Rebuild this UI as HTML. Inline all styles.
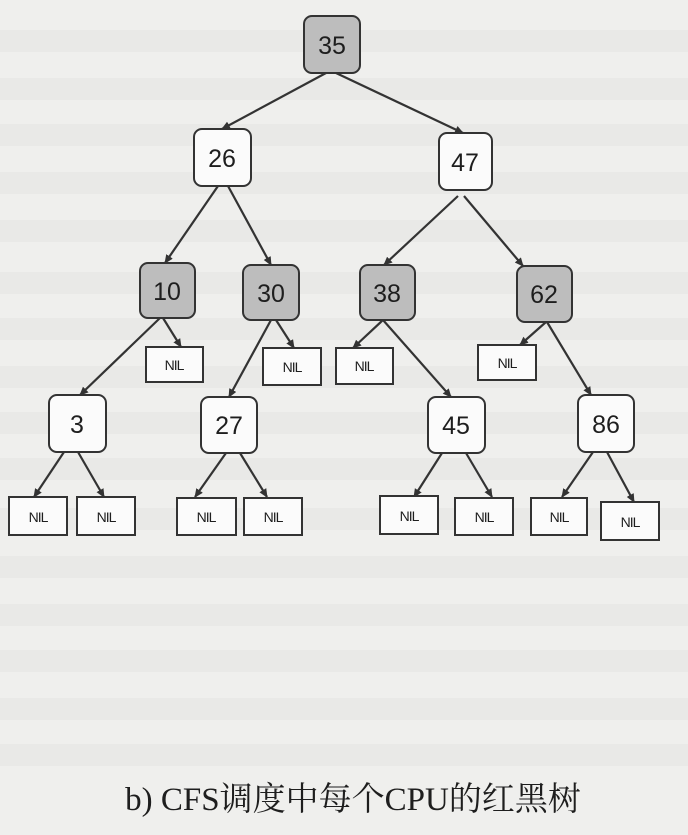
<!DOCTYPE html>
<html><head><meta charset="utf-8"><style>
html,body{margin:0;padding:0;background:#efefed;}
svg{display:block}
text{font-family:"Liberation Sans",sans-serif;fill:#1e1e1e}
</style></head><body>
<svg width="688" height="835" viewBox="0 0 688 835" xmlns="http://www.w3.org/2000/svg">
<defs><marker id="a" markerWidth="10" markerHeight="10" refX="8" refY="4" orient="auto" markerUnits="userSpaceOnUse"><path d="M0,0 L9,4 L0,8 z" fill="#333"/></marker></defs>
<rect width="688" height="835" fill="#efefed"/>
<g fill="#e9e9e7">
<rect x="0" y="30" width="688" height="22"/>
<rect x="0" y="78" width="688" height="22"/>
<rect x="0" y="124" width="688" height="22"/>
<rect x="0" y="172" width="688" height="22"/>
<rect x="0" y="220" width="688" height="22"/>
<rect x="0" y="272" width="688" height="22"/>
<rect x="0" y="318" width="688" height="22"/>
<rect x="0" y="366" width="688" height="22"/>
<rect x="0" y="412" width="688" height="22"/>
<rect x="0" y="458" width="688" height="22"/>
<rect x="0" y="508" width="688" height="22"/>
<rect x="0" y="556" width="688" height="22"/>
<rect x="0" y="604" width="688" height="22"/>
<rect x="0" y="650" width="688" height="22"/>
<rect x="0" y="698" width="688" height="22"/>
<rect x="0" y="744" width="688" height="22"/>
</g>
<g stroke="#333" stroke-width="2.2" marker-end="url(#a)">
<line x1="326" y1="73" x2="222" y2="129"/>
<line x1="336" y1="73" x2="463" y2="133"/>
<line x1="218" y1="186" x2="165" y2="263"/>
<line x1="228" y1="186" x2="271" y2="265"/>
<line x1="458" y1="196" x2="384" y2="265"/>
<line x1="464" y1="196" x2="523" y2="266"/>
<line x1="160" y1="318" x2="80" y2="395"/>
<line x1="163" y1="318" x2="181" y2="347"/>
<line x1="271" y1="320" x2="229" y2="397"/>
<line x1="276" y1="320" x2="294" y2="348"/>
<line x1="383" y1="320" x2="353" y2="348"/>
<line x1="383" y1="320" x2="451" y2="397"/>
<line x1="546" y1="322" x2="520" y2="345"/>
<line x1="547" y1="322" x2="591" y2="395"/>
<line x1="64" y1="452" x2="34" y2="497"/>
<line x1="78" y1="452" x2="104" y2="497"/>
<line x1="226" y1="453" x2="195" y2="497"/>
<line x1="240" y1="453" x2="267" y2="497"/>
<line x1="442" y1="453" x2="414" y2="497"/>
<line x1="466" y1="453" x2="492" y2="497"/>
<line x1="593" y1="452" x2="562" y2="497"/>
<line x1="607" y1="452" x2="634" y2="502"/>
</g>
<g stroke="#333" stroke-width="2">
<rect x="304" y="16" width="56" height="57" rx="8" fill="#bdbdbd"/>
<rect x="194" y="129" width="57" height="57" rx="8" fill="#fbfbfb"/>
<rect x="439" y="133" width="53" height="57" rx="8" fill="#fbfbfb"/>
<rect x="140" y="263" width="55" height="55" rx="8" fill="#bdbdbd"/>
<rect x="243" y="265" width="56" height="55" rx="8" fill="#bdbdbd"/>
<rect x="360" y="265" width="55" height="55" rx="8" fill="#bdbdbd"/>
<rect x="517" y="266" width="55" height="56" rx="8" fill="#bdbdbd"/>
<rect x="49" y="395" width="57" height="57" rx="8" fill="#fbfbfb"/>
<rect x="201" y="397" width="56" height="56" rx="8" fill="#fbfbfb"/>
<rect x="428" y="397" width="57" height="56" rx="8" fill="#fbfbfb"/>
<rect x="578" y="395" width="56" height="57" rx="8" fill="#fbfbfb"/>
</g>
<g stroke="#333" stroke-width="2" fill="#fbfbfb">
<rect x="146" y="347" width="57" height="35"/>
<rect x="263" y="348" width="58" height="37"/>
<rect x="336" y="348" width="57" height="36"/>
<rect x="478" y="345" width="58" height="35"/>
<rect x="9" y="497" width="58" height="38"/>
<rect x="77" y="497" width="58" height="38"/>
<rect x="177" y="498" width="59" height="37"/>
<rect x="244" y="498" width="58" height="37"/>
<rect x="380" y="496" width="58" height="38"/>
<rect x="455" y="498" width="58" height="37"/>
<rect x="531" y="498" width="56" height="37"/>
<rect x="601" y="502" width="58" height="38"/>
</g>
<g font-size="25" text-anchor="middle">
<text x="332" y="54">35</text>
<text x="222" y="167">26</text>
<text x="465" y="171">47</text>
<text x="167" y="300">10</text>
<text x="271" y="302">30</text>
<text x="387" y="302">38</text>
<text x="544" y="303">62</text>
<text x="77" y="433">3</text>
<text x="229" y="434">27</text>
<text x="456" y="434">45</text>
<text x="606" y="433">86</text>
</g>
<g font-size="14" text-anchor="middle" letter-spacing="-1">
<text x="174" y="370">NIL</text>
<text x="292" y="372">NIL</text>
<text x="364" y="371">NIL</text>
<text x="507" y="368">NIL</text>
<text x="38" y="522">NIL</text>
<text x="106" y="522">NIL</text>
<text x="206" y="522">NIL</text>
<text x="273" y="522">NIL</text>
<text x="409" y="521">NIL</text>
<text x="484" y="522">NIL</text>
<text x="559" y="522">NIL</text>
<text x="630" y="527">NIL</text>
</g>
<text x="353" y="810" font-size="33" text-anchor="middle" style="font-family:'Liberation Serif','Noto Serif CJK SC',serif">b) CFS调度中每个CPU的红黑树</text>
</svg>
</body></html>
